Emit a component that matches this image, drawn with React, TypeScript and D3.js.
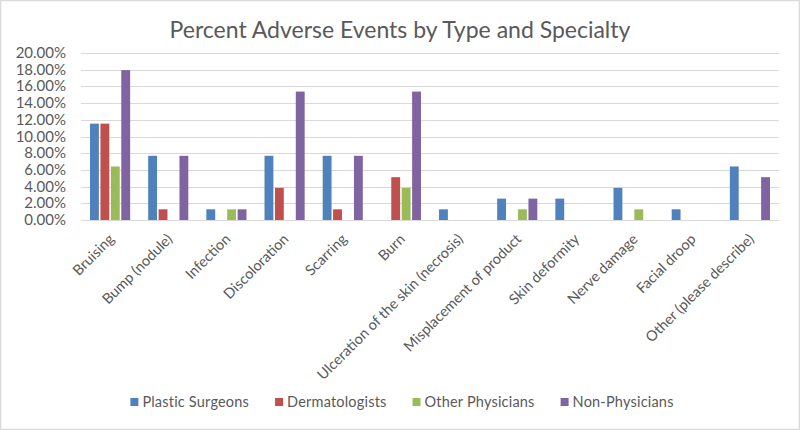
import React, { useEffect, useRef } from 'react'
import * as d3 from 'd3'

const categories = [
  'Bruising',
  'Bump (nodule)',
  'Infection',
  'Discoloration',
  'Scarring',
  'Burn',
  'Ulceration of the skin (necrosis)',
  'Misplacement of product',
  'Skin deformity',
  'Nerve damage',
  'Facial droop',
  'Other (please describe)',
]

const seriesNames = [
  'Plastic Surgeons',
  'Dermatologists',
  'Other Physicians',
  'Non-Physicians',
]

// percent values per category
const plasticSurgeons = [11.54, 7.69, 1.28, 7.69, 7.69, 0, 1.28, 2.56, 2.56, 3.85, 1.28, 6.41]
const dermatologists = [11.54, 1.28, 0, 3.85, 1.28, 5.13, 0, 0, 0, 0, 0, 0]
const otherPhysicians = [6.41, 0, 1.28, 0, 0, 3.85, 0, 1.28, 0, 1.28, 0, 0]
const nonPhysicians = [17.95, 7.69, 1.28, 15.38, 7.69, 15.38, 0, 2.56, 0, 0, 0, 5.13]

const yTicks = [0, 2, 4, 6, 8, 10, 12, 14, 16, 18, 20]

const colors = ['#4F81BD', '#C0504D', '#9BBB59', '#8064A2']

const App: React.FC = () => {
  const svgRef = useRef<SVGSVGElement | null>(null)

  useEffect(() => {
    if (!svgRef.current) return
    const svg = d3.select(svgRef.current)
    svg.selectAll('*').remove()

    const width = 800
    const height = 430
    const margin = { top: 53, right: 21, bottom: 210, left: 81 }
    const font = 'Lato, "Noto Sans", sans-serif'
    const textColor = '#595959'

    const values = [plasticSurgeons, dermatologists, otherPhysicians, nonPhysicians]

    svg
      .append('rect')
      .attr('x', 0.5)
      .attr('y', 0.5)
      .attr('width', width - 1)
      .attr('height', height - 1)
      .attr('fill', '#fff')
      .attr('stroke', '#d9d9d9')
      .attr('stroke-width', 1.5)

    svg
      .append('text')
      .attr('x', width / 2)
      .attr('y', 38)
      .attr('text-anchor', 'middle')
      .attr('font-family', font)
      .attr('font-size', 23)
      .attr('fill', textColor)
      .text('Percent Adverse Events by Type and Specialty')

    const x0 = d3
      .scaleBand()
      .domain(categories)
      .range([margin.left, width - margin.right])
    const groupW = x0.bandwidth() * 0.69
    const x1 = d3
      .scaleBand()
      .domain(seriesNames)
      .range([(x0.bandwidth() - groupW) / 2, (x0.bandwidth() + groupW) / 2])
      .paddingInner(0.15)
    const y = d3
      .scaleLinear()
      .domain([0, 20])
      .range([height - margin.bottom, margin.top])

    // gridlines
    svg
      .append('g')
      .selectAll('line')
      .data(yTicks)
      .enter()
      .append('line')
      .attr('x1', margin.left)
      .attr('x2', width - margin.right)
      .attr('y1', (d) => Math.round(y(d)) + 0.5)
      .attr('y2', (d) => Math.round(y(d)) + 0.5)
      .attr('stroke', '#d9d9d9')
      .attr('stroke-width', 1)

    // y tick labels
    svg
      .append('g')
      .selectAll('text')
      .data(yTicks)
      .enter()
      .append('text')
      .attr('x', 66)
      .attr('y', (d) => y(d) + 5)
      .attr('text-anchor', 'end')
      .attr('font-family', font)
      .attr('font-size', 15)
      .attr('fill', textColor)
      .text((d) => d3.format('.2f')(d) + '%')

    // bars
    svg
      .append('g')
      .selectAll('g')
      .data(categories)
      .enter()
      .append('g')
      .attr('transform', (d) => `translate(${x0(d)},0)`)
      .selectAll('rect')
      .data((_, i) => values.map((s, si) => ({ key: seriesNames[si], v: s[i], si })))
      .enter()
      .filter((d) => d.v > 0)
      .append('rect')
      .attr('x', (d) => x1(d.key)!)
      .attr('y', (d) => y(d.v))
      .attr('width', x1.bandwidth())
      .attr('height', (d) => y(0) - y(d.v))
      .attr('fill', (d) => colors[d.si])

    // x labels
    svg
      .append('g')
      .selectAll('text')
      .data(categories)
      .enter()
      .append('text')
      .attr(
        'transform',
        (d) => `translate(${x0(d)! + x0.bandwidth() / 2 + 5},${y(0) + 20}) rotate(-45)`,
      )
      .attr('text-anchor', 'end')
      .attr('font-family', font)
      .attr('font-size', 14.5)
      .attr('fill', textColor)
      .text((d) => d)

    // legend
    const legend = svg.append('g')
    const legendY = 402
    const items = legend
      .selectAll('g')
      .data(seriesNames)
      .enter()
      .append('g')
    items
      .append('rect')
      .attr('width', 8)
      .attr('height', 8)
      .attr('y', legendY - 4)
      .attr('fill', (_, i) => colors[i])
    items
      .append('text')
      .attr('x', 12)
      .attr('y', legendY + 5)
      .attr('font-family', font)
      .attr('font-size', 14.5)
      .attr('letter-spacing', 0.2)
      .attr('fill', textColor)
      .text((d) => d)
    const gap = 26
    const widths: number[] = []
    items.each(function () {
      const t = d3.select(this).select('text').node() as SVGTextElement
      widths.push(12 + t.getComputedTextLength())
    })
    const total = d3.sum(widths) + gap * (widths.length - 1)
    let cx = width / 2 - total / 2 + 2
    items.attr('transform', (_, i) => {
      const tx = cx
      cx += widths[i] + gap
      return `translate(${tx},0)`
    })
  }, [])

  return (
    <div style={{ position: 'absolute', left: 0, top: 0 }}>
      <svg ref={svgRef} width={800} height={430} style={{ display: 'block' }}></svg>
    </div>
  )
}

export default App
